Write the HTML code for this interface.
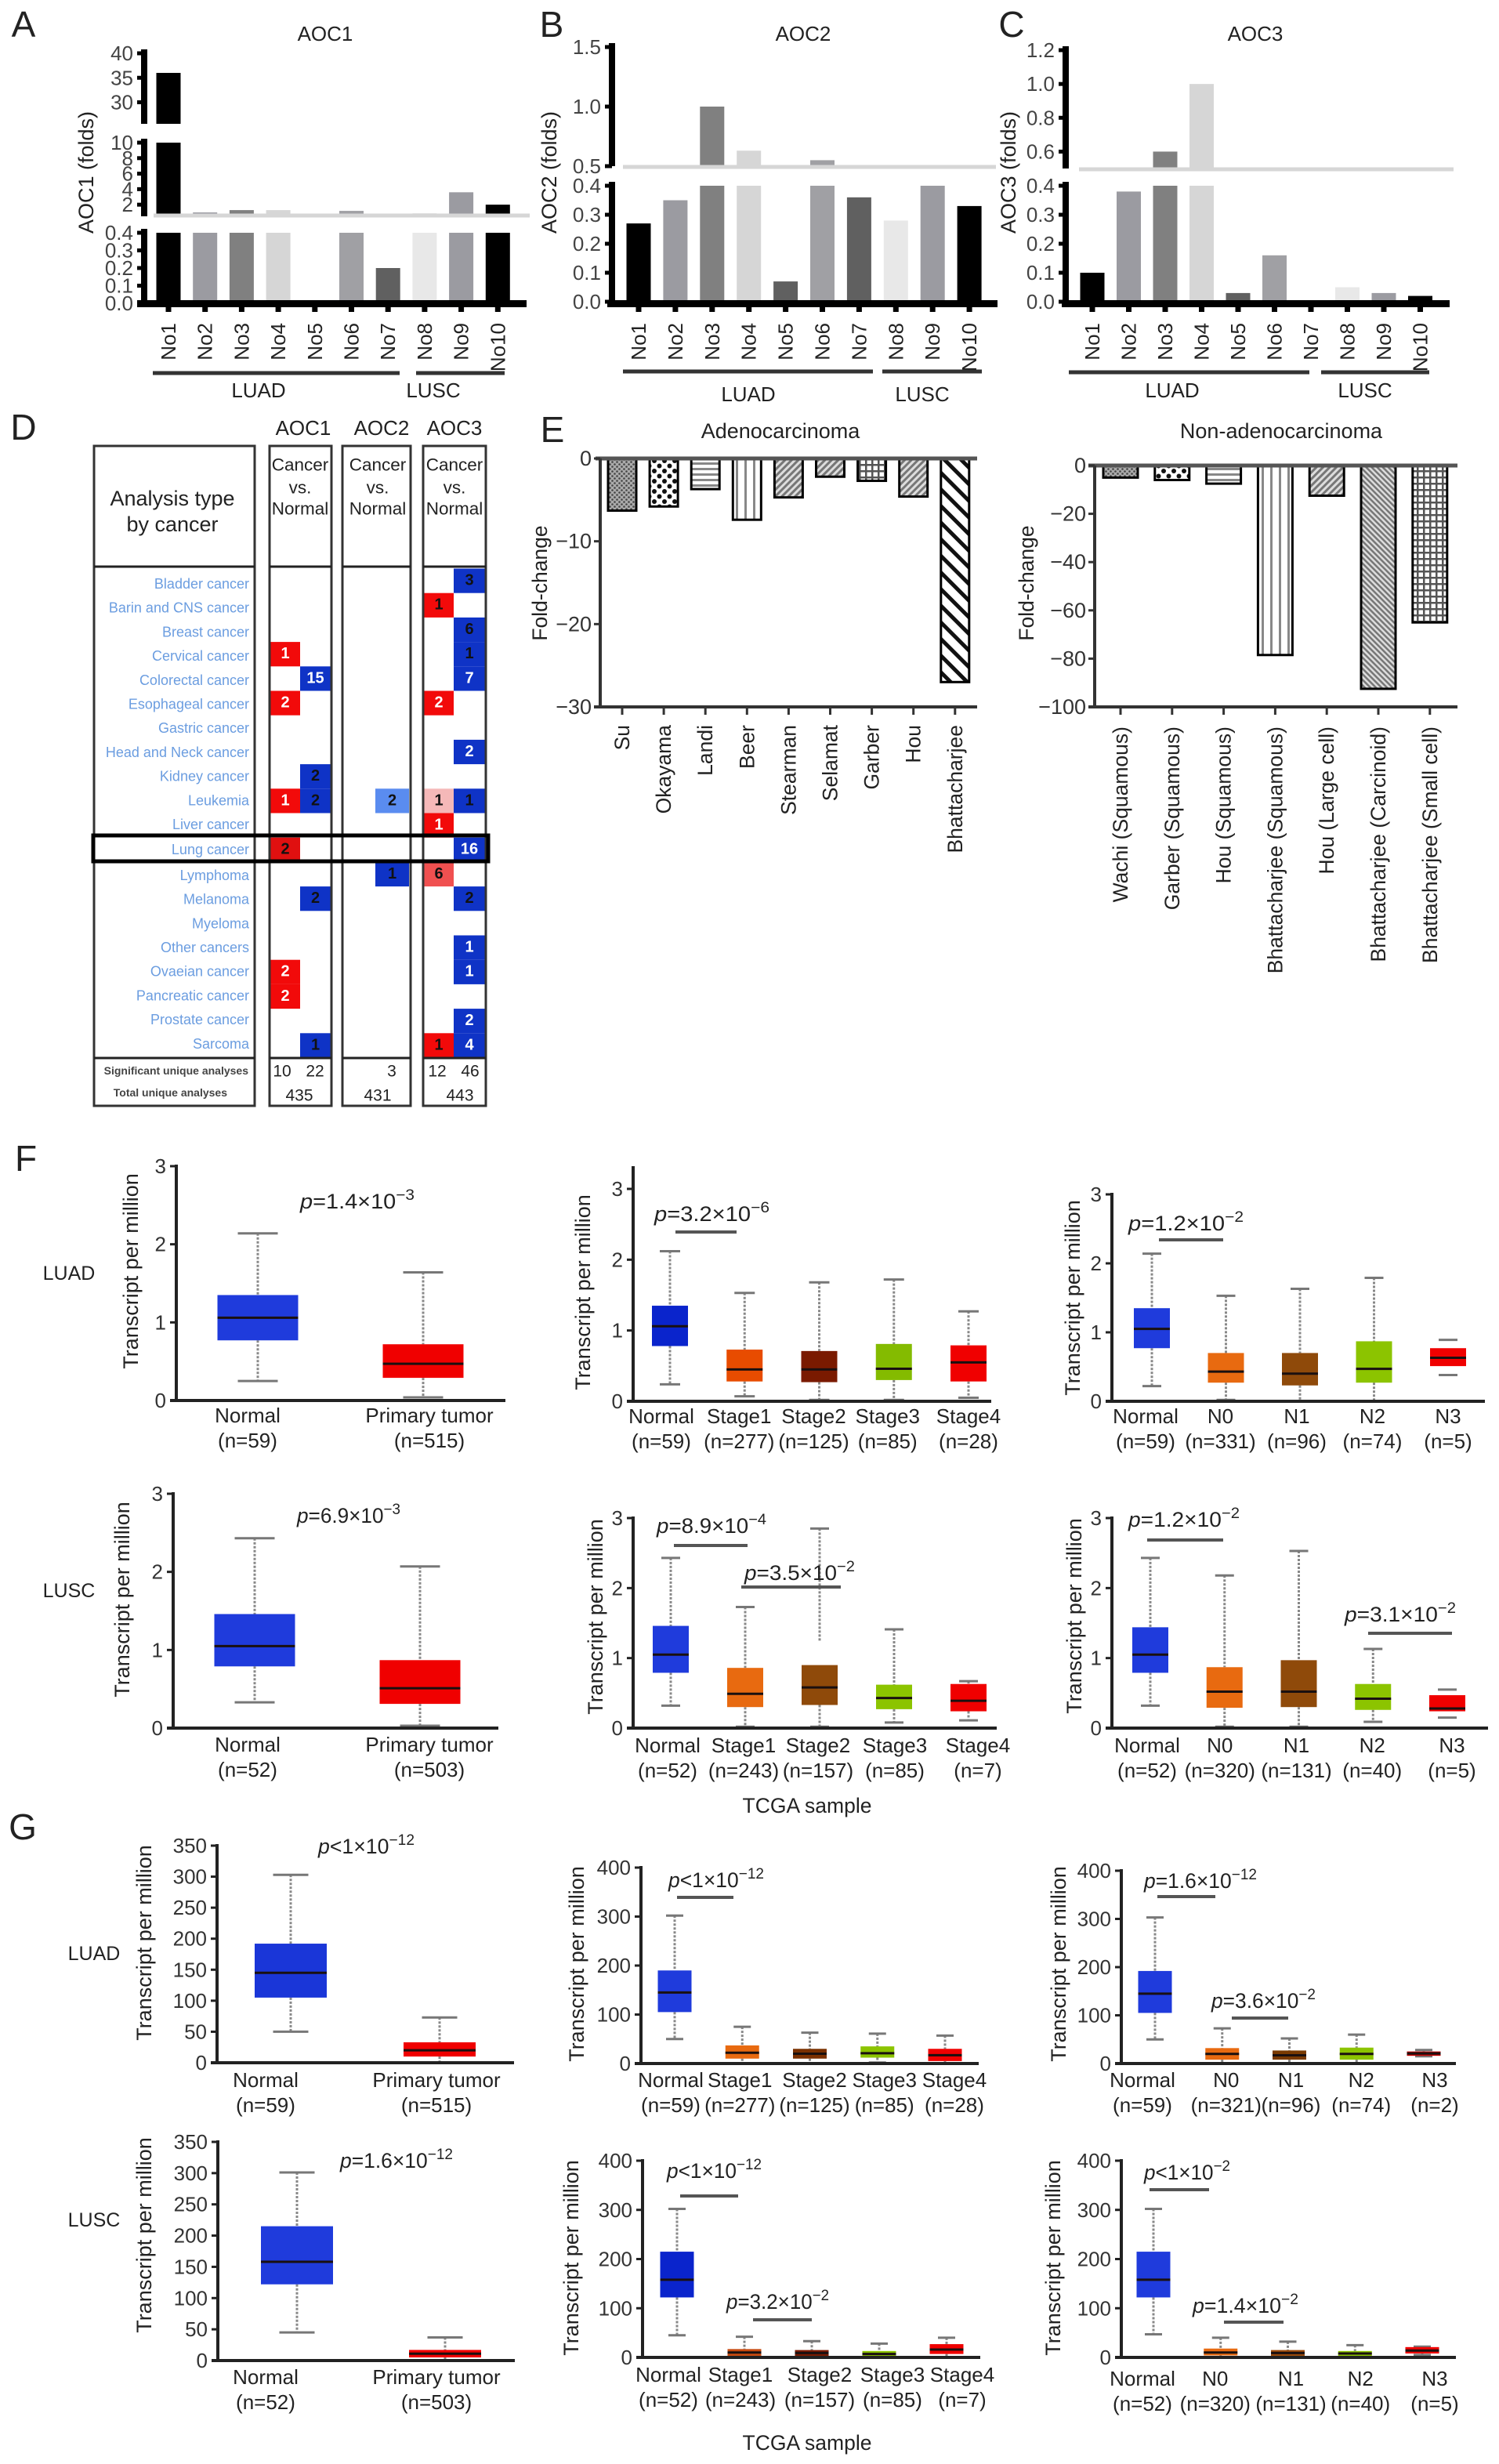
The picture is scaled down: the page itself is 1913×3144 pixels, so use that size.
<!DOCTYPE html>
<html lang="en">
<head>
<meta charset="utf-8">
<title>AOC expression figure</title>
<style>
html,body{margin:0;padding:0;background:#fff;}
svg{display:block;}
text{font-family:"Liberation Sans",Arial,sans-serif;fill:#222;}
</style>
</head>
<body>
<svg id="fig" xmlns="http://www.w3.org/2000/svg" width="1913" height="3144" viewBox="0 0 1913 3144">
<defs>
<pattern id="p-su" width="6" height="6" patternUnits="userSpaceOnUse"><rect width="6" height="6" fill="#aaa"/><circle cx="1.5" cy="1.5" r="1.3" fill="#444"/><circle cx="4.5" cy="4.5" r="1.3" fill="#444"/></pattern>
<pattern id="p-oka" width="13" height="13" patternUnits="userSpaceOnUse"><rect width="13" height="13" fill="#fff"/><circle cx="3" cy="3" r="3" fill="#111"/><circle cx="9.5" cy="9.5" r="3" fill="#111"/></pattern>
<pattern id="p-h" width="7" height="7" patternUnits="userSpaceOnUse"><rect width="7" height="7" fill="#fff"/><rect y="2" width="7" height="3" fill="#888"/></pattern>
<pattern id="p-v" width="11" height="7" patternUnits="userSpaceOnUse"><rect width="11" height="7" fill="#fff"/><rect x="4" width="3" height="7" fill="#888"/></pattern>
<pattern id="p-d" width="6" height="6" patternUnits="userSpaceOnUse" patternTransform="rotate(45)"><rect width="6" height="6" fill="#ddd"/><rect width="3" height="6" fill="#777"/></pattern>
<pattern id="p-b" width="5" height="5" patternUnits="userSpaceOnUse" patternTransform="rotate(-45)"><rect width="5" height="5" fill="#ddd"/><rect width="2.5" height="5" fill="#777"/></pattern>
<pattern id="p-g" width="8" height="8" patternUnits="userSpaceOnUse"><rect width="8" height="8" fill="#fff"/><rect width="2.5" height="8" fill="#555"/><rect width="8" height="2.5" fill="#555"/></pattern>
<pattern id="p-w" width="15" height="15" patternUnits="userSpaceOnUse" patternTransform="rotate(-45)"><rect width="15" height="15" fill="#fff"/><rect width="5" height="15" fill="#111"/></pattern>
</defs>
</svg>
<script>
// ---------- Panel A/B/C data ----------
const sampleCategories = ["No1","No2","No3","No4","No5","No6","No7","No8","No9","No10"];
const aoc1Folds = [36, 1.0, 1.3, 1.3, 0, 1.2, 0.2, 0.9, 3.6, 2.0];
const aoc2Folds = [0.27, 0.35, 1.0, 0.63, 0.07, 0.55, 0.36, 0.28, 0.4, 0.33];
const aoc3Folds = [0.1, 0.38, 0.6, 1.0, 0.03, 0.16, 0, 0.05, 0.03, 0.02];
const aoc1TicksTop = [40, 35, 30];
const aoc1TicksMid = [10, 8, 6, 4, 2];
const aoc1TicksLow = ["0.4","0.3","0.2","0.1","0.0"];
const aoc2TicksTop = ["1.5","1.0","0.5"];
const aoc2TicksLow = ["0.4","0.3","0.2","0.1","0.0"];
const aoc3TicksTop = ["1.2","1.0","0.8","0.6"];
const aoc3TicksLow = ["0.4","0.3","0.2","0.1","0.0"];

// ---------- Panel D data ----------
const cancerTypes = ["Bladder cancer","Barin and CNS cancer","Breast cancer","Cervical cancer","Colorectal cancer","Esophageal cancer","Gastric cancer","Head and Neck cancer","Kidney cancer","Leukemia","Liver cancer","Lung cancer","Lymphoma","Melanoma","Myeloma","Other cancers","Ovaeian cancer","Pancreatic cancer","Prostate cancer","Sarcoma"];
const aoc1Up   = [0,0,0,1,0,2,0,0,0,1,0,2,0,0,0,0,2,2,0,0];
const aoc1Down = [0,0,0,0,15,0,0,0,2,2,0,0,0,2,0,0,0,0,0,1];
const aoc2Down = [0,0,0,0,0,0,0,0,0,2,0,0,1,0,0,0,0,0,0,0];
const aoc3Up   = [0,1,0,0,0,2,0,0,0,1,1,0,6,0,0,0,0,0,0,1];
const aoc3Down = [3,0,6,1,7,0,0,2,0,1,0,16,0,2,0,1,1,0,2,4];

// ---------- Panel E data ----------
const adenoCategories = ["Su","Okayama","Landi","Beer","Stearman","Selamat","Garber","Hou","Bhattacharjee"];
const adenoFoldChange = [-6.3,-5.8,-3.7,-7.4,-4.7,-2.2,-2.7,-4.6,-27];
const adenoTicks = [0,-10,-20,-30];
const nonAdenoCategories = ["Wachi (Squamous)","Garber (Squamous)","Hou (Squamous)","Bhattacharjee (Squamous)","Hou (Large cell)","Bhattacharjee (Carcinoid)","Bhattacharjee (Small cell)"];
const nonAdenoFoldChange = [-5,-6,-7.5,-78.5,-12.5,-92.5,-65];
const nonAdenoTicks = [0,-20,-40,-60,-80,-100];

// ---------- Panel F/G box plot data ----------
const twoGroups = ["Normal","Primary tumor"];
const stageGroups = ["Normal","Stage1","Stage2","Stage3","Stage4"];
const nodeGroups = ["Normal","N0","N1","N2","N3"];
const ticksF = [0,1,2,3];
const ticksG2 = [0,50,100,150,200,250,300,350];
const ticksG5 = [0,100,200,300,400];

const f1Counts=[59,515]; const f1Low=[0.25,0.04]; const f1Q1=[0.77,0.29]; const f1Median=[1.06,0.47]; const f1Q3=[1.35,0.72]; const f1High=[2.14,1.64];
const f2Counts=[52,503]; const f2Low=[0.33,0.03]; const f2Q1=[0.79,0.31]; const f2Median=[1.05,0.51]; const f2Q3=[1.46,0.87]; const f2High=[2.43,2.07];
const f3Counts=[59,277,125,85,28]; const f3Low=[0.24,0.07,0.02,0.02,0.05]; const f3Q1=[0.78,0.28,0.27,0.3,0.28]; const f3Median=[1.06,0.45,0.45,0.46,0.55]; const f3Q3=[1.35,0.73,0.71,0.81,0.79]; const f3High=[2.12,1.53,1.68,1.72,1.27];
const f4Counts=[59,331,96,74,5]; const f4Low=[0.22,0.02,0,0,0.38]; const f4Q1=[0.77,0.27,0.23,0.27,0.51]; const f4Median=[1.05,0.43,0.4,0.47,0.63]; const f4Q3=[1.35,0.7,0.7,0.87,0.77]; const f4High=[2.14,1.53,1.63,1.79,0.89];
const f5Counts=[52,243,157,85,7]; const f5Low=[0.32,0.02,0.02,0.08,0.11]; const f5Q1=[0.79,0.3,0.33,0.27,0.24]; const f5Median=[1.05,0.49,0.58,0.43,0.39]; const f5Q3=[1.46,0.86,0.9,0.62,0.63]; const f5High=[2.43,1.73,2.85,1.41,0.67];
const f6Counts=[52,320,131,40,5]; const f6Low=[0.32,0.02,0.02,0.09,0.15]; const f6Q1=[0.79,0.29,0.3,0.26,0.24]; const f6Median=[1.05,0.52,0.52,0.42,0.28]; const f6Q3=[1.44,0.87,0.97,0.63,0.47]; const f6High=[2.43,2.18,2.53,1.13,0.55];
const g1Counts=[59,515]; const g1Low=[50,0]; const g1Q1=[105,10]; const g1Median=[145,20]; const g1Q3=[192,33]; const g1High=[303,73];
const g2Counts=[52,503]; const g2Low=[45,0]; const g2Q1=[122,5]; const g2Median=[158,11]; const g2Q3=[215,17]; const g2High=[301,37];
const g3Counts=[59,277,125,85,28]; const g3Low=[50,0,0,2,0]; const g3Q1=[105,10,10,12,5]; const g3Median=[145,22,20,21,17]; const g3Q3=[190,37,30,35,30]; const g3High=[302,75,63,61,57];
const g4Counts=[59,321,96,74,2]; const g4Low=[50,0,0,0,15]; const g4Q1=[105,8,8,8,16]; const g4Median=[145,20,17,20,21]; const g4Q3=[192,32,27,33,25]; const g4High=[303,73,52,60,28];
const g5Counts=[52,243,157,85,7]; const g5Low=[45,0,0,0,0]; const g5Q1=[122,3,2,2,7]; const g5Median=[158,10,9,7,16]; const g5Q3=[215,17,15,13,27]; const g5High=[302,42,33,28,40];
const g6Counts=[52,320,131,40,5]; const g6Low=[47,0,0,0,5]; const g6Q1=[122,4,3,2,8]; const g6Median=[158,10,9,8,14]; const g6Q3=[215,18,15,13,21]; const g6High=[302,40,32,25,22];

// ---------- Drawing helpers ----------
const NS = "http://www.w3.org/2000/svg";
const fig = document.getElementById("fig");

function add(parent, tag, attrs, name) {
  const el = document.createElementNS(NS, tag);
  for (const k in attrs) el.setAttribute(k, attrs[k]);
  
  
  parent.appendChild(el);
  return el;
}
function group(name) { return add(fig, "g", {}, name); }
function line(p, x1, y1, x2, y2, color, w, name, dash) {
  const a = {x1:x1, y1:y1, x2:x2, y2:y2, stroke:color, "stroke-width":w};
  if (dash) a["stroke-dasharray"] = dash;
  return add(p, "line", a, name);
}
function rect(p, x, y, w, h, fill, name) {
  return add(p, "rect", {x:x, y:y, width:w, height:h, fill:fill}, name);
}
function txt(p, x, y, s, size, anchor, name, opts) {
  opts = opts || {};
  const a = {x:x, y:y, "font-size":size, "text-anchor":anchor || "middle", "dominant-baseline":"central"};
  if (opts.rot) a.transform = "rotate(-90 " + x + " " + y + ")";
  if (opts.fill) a.style = "fill:" + opts.fill;
  if (opts.weight) a["font-weight"] = opts.weight;
  const el = add(p, "text", a, name);
  el.textContent = s;
  return el;
}
function pValue(p, x0, x1, cy, body, exp, size) {
  const el = add(p, "text", {x:x0, y:cy + 9, "font-size":size || 27, textLength:x1 - x0, lengthAdjust:"spacingAndGlyphs"}, "p-value-label");
  const t1 = document.createElementNS(NS, "tspan");
  t1.setAttribute("font-style", "italic");
  t1.textContent = "p";
  el.appendChild(t1);
  el.appendChild(document.createTextNode(body));
  const t2 = document.createElementNS(NS, "tspan");
  t2.setAttribute("dy", -11);
  t2.setAttribute("font-size", (size || 27) * 0.72);
  t2.textContent = exp;
  el.appendChild(t2);
  return el;
}
function pBar(p, x0, x1, y) { line(p, x0, y, x1, y, "#555", 4, "significance-bar"); }

// Panel letters
const letters = [["A",30,31],["B",704,31],["C",1291,31],["D",30,545],["E",705,548],["F",33,1478],["G",29,2331]];
const letterGroup = group("panel-letters");
letters.forEach(function (l) { txt(letterGroup, l[1], l[2], l[0], 46, "middle", "panel-letter"); });

// ---------- A/B/C ----------
const barColors = ["#000","#9b9ba1","#808080","#d6d6d6","#606060","#a0a0a4","#606060","#e8e8e8","#9b9ba1","#000"];
function brokenBars(c) {
  const g = group("bar-chart-" + c.title.toLowerCase());
  const yIn = function (s, v) { return s.yLo + (v - s.lo) * (s.yHi - s.yLo) / (s.hi - s.lo); };
  const xOf = function (i) { return c.first + c.step * i; };
  txt(g, c.titleX, 43, c.title, 26, "middle", "chart-title");
  txt(g, c.ylabelX, 220, c.title + " (folds)", 27, "middle", "y-axis-title", {rot:true});
  c.values.forEach(function (v, i) {
    c.segs.forEach(function (s) {
      if (v > s.lo) {
        const top = yIn(s, Math.min(v, s.hi));
        rect(g, xOf(i) - 15.5, top, 31, s.yLo - top, barColors[i], "bar-" + sampleCategories[i].toLowerCase());
      }
    });
  });
  c.segs.forEach(function (s) {
    line(g, c.axis, s.yHi - 5, c.axis, s.yLo + (s.lo === 0 ? 2 : 0), "#000", 8, "y-axis-segment");
    s.ticks.forEach(function (t) {
      const y = yIn(s, +t);
      line(g, c.axis - 9, y, c.axis, y, "#000", 5, "y-tick");
      txt(g, c.axis - 14, y, String(t), 26, "end", "y-tick-label", {fill:"#444"});
    });
  });
  rect(g, c.bandX0, c.bandY - 2.5, c.bandX1 - c.bandX0, 5, "#d6d6d6", "axis-break-band");
  rect(g, c.base0, 383, c.base1 - c.base0, 9, "#000", "x-axis");
  sampleCategories.forEach(function (n, i) {
    line(g, xOf(i), 388, xOf(i), 398, "#000", 7, "x-tick");
    txt(g, xOf(i), 412, n, 26, "end", "x-tick-label", {rot:true});
  });
  c.groups.forEach(function (b) {
    line(g, b.x0, c.groupY, b.x1, c.groupY, "#333", 5, "cohort-bracket");
    txt(g, b.tx, c.groupTextY, b.label, 26, "middle", "cohort-label");
  });
}
brokenBars({title:"AOC1", titleX:415, ylabelX:110, values:aoc1Folds, first:215, step:46.7, axis:184,
  segs:[{lo:0,hi:0.4,yLo:387,yHi:297,ticks:aoc1TicksLow},{lo:0.5,hi:10,yLo:276,yHi:182,ticks:aoc1TicksMid},{lo:25.6,hi:40,yLo:158,yHi:68,ticks:aoc1TicksTop}],
  bandX0:196, bandX1:676, bandY:275, base0:175, base1:672, groupY:476, groupTextY:498,
  groups:[{x0:195,x1:510,tx:330,label:"LUAD"},{x0:531,x1:644,tx:553,label:"LUSC"}]});
brokenBars({title:"AOC2", titleX:1025, ylabelX:701, values:aoc2Folds, first:815, step:46.9, axis:781,
  segs:[{lo:0,hi:0.4,yLo:385,yHi:237,ticks:aoc2TicksLow},{lo:0.5,hi:1.5,yLo:212,yHi:60,ticks:aoc2TicksTop}],
  bandX0:795, bandX1:1271, bandY:213, base0:775, base1:1273, groupY:474, groupTextY:503,
  groups:[{x0:795,x1:1114,tx:955,label:"LUAD"},{x0:1126,x1:1253,tx:1177,label:"LUSC"}]});
brokenBars({title:"AOC3", titleX:1602, ylabelX:1287, values:aoc3Folds, first:1394, step:46.5, axis:1360,
  segs:[{lo:0,hi:0.4,yLo:385,yHi:237,ticks:aoc3TicksLow},{lo:0.5,hi:1.2,yLo:215,yHi:64,ticks:aoc3TicksTop}],
  bandX0:1377, bandX1:1855, bandY:216, base0:1355, base1:1850, groupY:475, groupTextY:498,
  groups:[{x0:1364,x1:1671,tx:1496,label:"LUAD"},{x0:1686,x1:1824,tx:1742,label:"LUSC"}]});

// ---------- D heatmap ----------
(function () {
  const g = group("oncomine-heatmap");
  const rowTop = function (i) { return 725.5 + 31.2 * i; };
  const RED = "#f20a0a", BLUE = "#0f33c6";
  const shade = {"aoc2Down9":"#5a8cf0","aoc3Up9":"#f5b8b8","aoc3Up12":"#f05050","aoc1Up11":"#e01010"};
  const darkText = {"aoc1Down8":1,"aoc1Down9":1,"aoc1Down13":1,"aoc1Down19":1,"aoc1Up11":1,"aoc2Down9":1,"aoc2Down12":1,"aoc3Up1":1,"aoc3Up9":1,"aoc3Up12":1,"aoc3Up19":1,"aoc3Down0":1,"aoc3Down2":1,"aoc3Down3":1,"aoc3Down9":1,"aoc3Down13":1};
  function cells(key, arr, x0, x1, color) {
    arr.forEach(function (v, i) {
      if (!v) return;
      const id = key + i;
      rect(g, x0, rowTop(i), x1 - x0, 31.2, shade[id] || color, "heatmap-cell");
      txt(g, (x0 + x1) / 2, rowTop(i) + 15, String(v), 20, "middle", "heatmap-count", {fill: darkText[id] ? "#111" : "#fff", weight:"bold"});
    });
  }
  cells("aoc1Up", aoc1Up, 345, 383, RED);
  cells("aoc1Down", aoc1Down, 383, 422, BLUE);
  cells("aoc2Down", aoc2Down, 479, 522, BLUE);
  cells("aoc3Up", aoc3Up, 541, 579, RED);
  cells("aoc3Down", aoc3Down, 579, 619, BLUE);
  [[120,325],[344,423],[437,524],[540,620]].forEach(function (b) {
    add(g, "rect", {x:b[0], y:569, width:b[1]-b[0], height:842, fill:"none", stroke:"#333", "stroke-width":3}, "table-column-frame");
    line(g, b[0], 723, b[1], 723, "#222", 3, "table-header-rule");
    line(g, b[0], 1350, b[1], 1350, "#222", 3, "table-footer-rule");
  });
  txt(g, 220, 636, "Analysis type", 27, "middle", "table-heading");
  txt(g, 220, 669, "by cancer", 27, "middle", "table-heading");
  [[387,"AOC1",383],[487,"AOC2",482],[580,"AOC3",580]].forEach(function (h) {
    txt(g, h[0], 546, h[1], 26, "middle", "gene-heading");
    txt(g, h[2], 593, "Cancer", 22.5, "middle", "comparison-label");
    txt(g, h[2], 622, "vs.", 22.5, "middle", "comparison-label");
    txt(g, h[2], 649, "Normal", 22.5, "middle", "comparison-label");
  });
  cancerTypes.forEach(function (n, i) {
    const y = 745 + 30.7 * i + (i > 10 ? 1.5 : 0) + (i > 11 ? 2 : 0);
    txt(g, 318, y, n, 18, "end", "cancer-type-label", {fill:"#6b9de0"});
  });
  add(g, "rect", {x:119, y:1066, width:504, height:33, fill:"none", stroke:"#000", "stroke-width":5}, "lung-cancer-highlight");
  txt(g, 317, 1366, "Significant unique analyses", 14, "end", "footer-label", {weight:"bold", fill:"#444"});
  txt(g, 290, 1394, "Total unique analyses", 14, "end", "footer-label", {weight:"bold", fill:"#444"});
  [[360,1367,"10"],[402,1367,"22"],[382,1398,"435"],[500,1367,"3"],[482,1398,"431"],[558,1367,"12"],[600,1367,"46"],[587,1398,"443"]].forEach(function (t) {
    txt(g, t[0], t[1], t[2], 21, "middle", "footer-count");
  });
})();

// ---------- E pattern bars ----------
function patternBars(c) {
  const g = group(c.name);
  const yOf = function (v) { return c.y0 + (c.yBottom - c.y0) * v / c.min; };
  const xOf = function (i) { return c.first + c.step * i; };
  txt(g, c.titleX, 550, c.title, 27, "middle", "chart-title");
  txt(g, c.ylabelX, 744, "Fold-change", 26.5, "middle", "y-axis-title", {rot:true});
  c.values.forEach(function (v, i) {
    add(g, "rect", {x:xOf(i) - c.barW / 2, y:c.y0, width:c.barW, height:yOf(v) - c.y0, fill:"url(#" + c.fills[i] + ")", stroke:"#000", "stroke-width":3}, "bar-" + c.cats[i].toLowerCase().replace(/[^a-z]+/g, "-"));
  });
  line(g, c.topX, c.y0, c.x1, c.y0, "#555", 5, "zero-line");
  line(g, c.axis, c.y0, c.axis, c.yBottom + 2, "#333", 4, "y-axis");
  line(g, c.axis - 8, c.yBottom, c.x1, c.yBottom, "#333", 4, "x-axis");
  c.ticks.forEach(function (t) {
    line(g, c.axis - 8, yOf(t), c.axis, yOf(t), "#333", 3, "y-tick");
    txt(g, c.axis - 11, yOf(t), t === 0 ? "0" : "\u2212" + Math.abs(t), 27, "end", "y-tick-label", {fill:"#333"});
  });
  c.cats.forEach(function (n, i) {
    line(g, xOf(i), c.yBottom, xOf(i), c.yBottom + 10, "#333", 3, "x-tick");
    txt(g, xOf(i), c.labelY, n, 26.5, "end", "x-tick-label", {rot:true});
  });
}
patternBars({name:"adenocarcinoma-chart", title:"Adenocarcinoma", titleX:996, ylabelX:689, values:adenoFoldChange, cats:adenoCategories, ticks:adenoTicks, min:-30, y0:585, yBottom:902, first:794, step:53.1, barW:36, axis:766, topX:760, x1:1247, labelY:925, fills:["p-su","p-oka","p-h","p-v","p-d","p-d","p-g","p-d","p-w"]});
patternBars({name:"non-adenocarcinoma-chart", title:"Non-adenocarcinoma", titleX:1635, ylabelX:1310, values:nonAdenoFoldChange, cats:nonAdenoCategories, ticks:nonAdenoTicks, min:-100, y0:594, yBottom:902, first:1430, step:65.8, barW:44, axis:1397, topX:1389, x1:1860, labelY:927, fills:["p-su","p-oka","p-h","p-v","p-d","p-b","p-g"]});

// ---------- F/G box plots ----------
const BL="#1f3bdc", BL2="#0a24cc", OR="#e86a10", OR2="#e84c00", BR="#8f4a0a", BR2="#7a1a00", GR="#8cc400", RD="#f00000";
function boxPlot(c) {
  const g = group(c.name);
  const yOf = function (v) { return c.y0 + (c.yTop - c.y0) * v / c.max; };
  const xOf = function (i) { return c.first + c.step * i; };
  txt(g, c.ylabelX, c.ylabelY, "Transcript per million", 27, "middle", "y-axis-title", {rot:true});
  c.cats.forEach(function (n, i) {
    const x = xOf(i), cw = c.capW / 2;
    if (!(c.noStem && c.noStem.indexOf(i) >= 0)) {
      const stemEnd = (c.stemBreak && c.stemBreak[i]) ? yOf(c.stemBreak[i]) : yOf(c.q3[i]);
      line(g, x, yOf(c.high[i]), x, stemEnd, "#888", 3, "whisker-upper", "3 2");
      line(g, x, yOf(c.q1[i]), x, yOf(c.low[i]), "#888", 3, "whisker-lower", "3 2");
    }
    line(g, x - cw, yOf(c.high[i]), x + cw, yOf(c.high[i]), "#777", 3, "whisker-cap");
    line(g, x - cw, yOf(c.low[i]), x + cw, yOf(c.low[i]), "#777", 3, "whisker-cap");
    rect(g, x - c.boxW / 2, yOf(c.q3[i]), c.boxW, yOf(c.q1[i]) - yOf(c.q3[i]), c.colors[i], "box-" + n.toLowerCase().replace(/\s+/g, "-"));
    line(g, x - c.boxW / 2, yOf(c.med[i]), x + c.boxW / 2, yOf(c.med[i]), "#1a1010", 3, "median-line");
    const lx = x + (c.labelDx ? c.labelDx[i] : 0);
    txt(g, lx, c.labelY, n, 26, "middle", "x-tick-label");
    txt(g, lx, c.labelY + 32, "(n=" + c.counts[i] + ")", 26, "middle", "sample-size-label");
  });
  line(g, c.axis, c.axisTop, c.axis, c.y0 + 2, "#222", 4, "y-axis");
  line(g, c.axis - 8, c.y0, c.xEnd, c.y0, "#222", 4, "x-axis");
  c.ticks.forEach(function (t) {
    line(g, c.axis - 8, yOf(t), c.axis, yOf(t), "#222", 3, "y-tick");
    txt(g, c.axis - 13, yOf(t), String(t), 26, "end", "y-tick-label", {fill:"#333"});
  });
  (c.ps || []).forEach(function (p) { pValue(g, p[0], p[1], p[2], p[3], p[4]); if (p[5]) pBar(g, p[5], p[6], p[7]); });
}
boxPlot({name:"luad-aoc1-tumor-box", cats:twoGroups, counts:f1Counts, low:f1Low, q1:f1Q1, med:f1Median, q3:f1Q3, high:f1High, ticks:ticksF, max:3, y0:1787, yTop:1488, axis:225, axisTop:1486, xEnd:645, first:329, step:211, boxW:103, capW:51, colors:[BL,RD], labelY:1806, labelDx:[-13,8], ylabelX:167, ylabelY:1622, ps:[[383,529,1533,"=1.4\u00d710","\u22123"]]});
boxPlot({name:"lusc-aoc1-tumor-box", cats:twoGroups, counts:f2Counts, low:f2Low, q1:f2Q1, med:f2Median, q3:f2Q3, high:f2High, ticks:ticksF, max:3, y0:2205, yTop:1906, axis:221, axisTop:1904, xEnd:636, first:325, step:211, boxW:103, capW:51, colors:[BL,RD], labelY:2226, labelDx:[-9,12], ylabelX:156, ylabelY:2041, ps:[[379,511,1934,"=6.9\u00d710","\u22123"]]});
boxPlot({name:"luad-aoc1-stage-box", cats:stageGroups, counts:f3Counts, low:f3Low, q1:f3Q1, med:f3Median, q3:f3Q3, high:f3High, ticks:ticksF, max:3, y0:1788, yTop:1517, axis:808, axisTop:1488, xEnd:1265, first:855, step:95.25, boxW:46, capW:26, colors:[BL2,OR2,BR2,"#84bb00",RD], labelY:1807, labelDx:[-11,-7,-7,-8,0], ylabelX:744, ylabelY:1649, ps:[[835,982,1549,"=3.2\u00d710","\u22126",862,940,1572]]});
boxPlot({name:"luad-aoc1-node-box", cats:nodeGroups, counts:f4Counts, low:f4Low, q1:f4Q1, med:f4Median, q3:f4Q3, high:f4High, ticks:ticksF, max:3, y0:1788, yTop:1524, axis:1419, axisTop:1522, xEnd:1895, first:1470, step:94.5, boxW:46, capW:24, colors:[BL,OR,BR,GR,RD], noStem:[4], labelY:1807, labelDx:[-8,-7,-4,-2,0], ylabelX:1369, ylabelY:1656, ps:[[1440,1587,1561,"=1.2\u00d710","\u22122",1479,1561,1582]]});
boxPlot({name:"lusc-aoc1-stage-box", cats:stageGroups, counts:f5Counts, low:f5Low, q1:f5Q1, med:f5Median, q3:f5Q3, high:f5High, ticks:ticksF, max:3, y0:2205, yTop:1937, axis:808, axisTop:1935, xEnd:1272, first:856, step:95, boxW:46, capW:24, colors:[BL,OR,BR,GR,RD], stemBreak:[0,0,1.25,0,0], labelY:2227, labelDx:[-4,-2,-2,1,12], ylabelX:760, ylabelY:2063, ps:[[838,978,1947,"=8.9\u00d710","\u22124",860,954,1972],[950,1091,2007,"=3.5\u00d710","\u22122",946,1073,2025]]});
boxPlot({name:"lusc-aoc1-node-box", cats:nodeGroups, counts:f6Counts, low:f6Low, q1:f6Q1, med:f6Median, q3:f6Q3, high:f6High, ticks:ticksF, max:3, y0:2205, yTop:1937, axis:1419, axisTop:1935, xEnd:1899, first:1468, step:94.75, boxW:46, capW:24, colors:[BL,OR,BR,GR,RD], noStem:[4], labelY:2227, labelDx:[-4,-6,-3,-1,6], ylabelX:1371, ylabelY:2062, ps:[[1440,1582,1939,"=1.2\u00d710","\u22122",1464,1561,1965],[1716,1858,2060,"=3.1\u00d710","\u22122",1746,1853,2084]]});
boxPlot({name:"luad-aoc3-tumor-box", cats:twoGroups, counts:g1Counts, low:g1Low, q1:g1Q1, med:g1Median, q3:g1Q3, high:g1High, ticks:ticksG2, max:350, y0:2632, yTop:2355, axis:277, axisTop:2353, xEnd:656, first:371, step:190, boxW:92, capW:45, colors:["#1a36d8",RD], labelY:2654, labelDx:[-32,-4], ylabelX:184, ylabelY:2479, ps:[[406,529,2356,"<1\u00d710","\u221212"]]});
boxPlot({name:"lusc-aoc3-tumor-box", cats:twoGroups, counts:g2Counts, low:g2Low, q1:g2Q1, med:g2Median, q3:g2Q3, high:g2High, ticks:ticksG2, max:350, y0:3012, yTop:2733, axis:278, axisTop:2731, xEnd:657, first:379, step:189, boxW:92, capW:45, colors:[BL,RD], labelY:3033, labelDx:[-40,-11], ylabelX:184, ylabelY:2852, ps:[[434,578,2757,"=1.6\u00d710","\u221212"]]});
boxPlot({name:"luad-aoc3-stage-box", cats:stageGroups, counts:g3Counts, low:g3Low, q1:g3Q1, med:g3Median, q3:g3Q3, high:g3High, ticks:ticksG5, max:400, y0:2633, yTop:2383, axis:818, axisTop:2381, xEnd:1249, first:861, step:86.25, boxW:43, capW:22, colors:[BL,OR,"#7a3000",GR,RD], labelY:2654, labelDx:[-5,-3,6,9,12], ylabelX:736, ylabelY:2506, ps:[[853,975,2399,"<1\u00d710","\u221212",864,936,2421]]});
boxPlot({name:"luad-aoc3-node-box", cats:nodeGroups, counts:g4Counts, low:g4Low, q1:g4Q1, med:g4Median, q3:g4Q3, high:g4High, ticks:ticksG5, max:400, y0:2633, yTop:2387, axis:1431, axisTop:2385, xEnd:1858, first:1474, step:85.75, boxW:43, capW:22, colors:[BL,OR,"#7a3a00",GR,"#c00000"], labelY:2654, labelDx:[-16,5,2,6,14], ylabelX:1351, ylabelY:2506, ps:[[1460,1604,2400,"=1.6\u00d710","\u221212",1477,1551,2420],[1546,1679,2553,"=3.6\u00d710","\u22122",1572,1644,2575]]});
boxPlot({name:"lusc-aoc3-stage-box", cats:stageGroups, counts:g5Counts, low:g5Low, q1:g5Q1, med:g5Median, q3:g5Q3, high:g5High, ticks:ticksG5, max:400, y0:3008, yTop:2757, axis:820, axisTop:2755, xEnd:1251, first:864, step:86, boxW:43, capW:22, colors:[BL2,"#c84a10",BR2,GR,RD], labelY:3030, labelDx:[-11,-5,10,17,20], ylabelX:729, ylabelY:2881, ps:[[851,972,2770,"<1\u00d710","\u221212",868,942,2802],[927,1058,2937,"=3.2\u00d710","\u22122",961,1036,2960]]});
boxPlot({name:"lusc-aoc3-node-box", cats:nodeGroups, counts:g6Counts, low:g6Low, q1:g6Q1, med:g6Median, q3:g6Q3, high:g6High, ticks:ticksG5, max:400, y0:3008, yTop:2757, axis:1431, axisTop:2755, xEnd:1858, first:1472, step:85.75, boxW:43, capW:22, colors:[BL,OR,"#9b4a0a",GR,RD], labelY:3035, labelDx:[-14,-7,4,7,16], ylabelX:1344, ylabelY:2881, ps:[[1460,1570,2772,"<1\u00d710","\u22122",1467,1543,2794],[1522,1657,2942,"=1.4\u00d710","\u22122",1562,1638,2963]]});

// Row labels and shared captions
const captions = group("row-labels");
txt(captions, 88, 1625, "LUAD", 25, "middle", "row-label-luad");
txt(captions, 88, 2030, "LUSC", 25, "middle", "row-label-lusc");
txt(captions, 120, 2493, "LUAD", 25, "middle", "row-label-luad");
txt(captions, 120, 2833, "LUSC", 25, "middle", "row-label-lusc");
txt(captions, 1030, 2304, "TCGA sample", 26.5, "middle", "x-axis-caption");
txt(captions, 1030, 3117, "TCGA sample", 26.5, "middle", "x-axis-caption");
</script>
</body>
</html>
